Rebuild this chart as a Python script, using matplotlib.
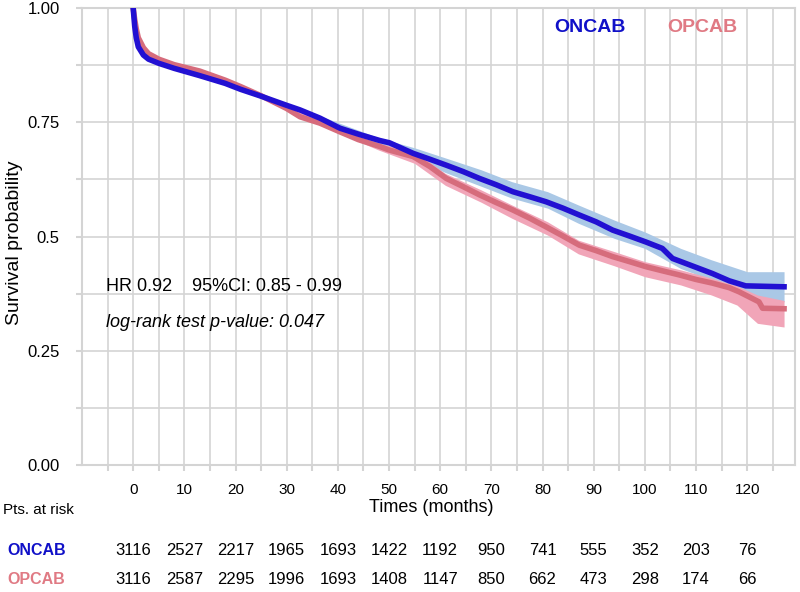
import numpy as np
import matplotlib.pyplot as plt
from matplotlib.transforms import blended_transform_factory

plt.rcParams['font.family'] = ['Liberation Sans', 'DejaVu Sans']

# survival curves (months, probability)
oncab_t = [0, 0.3, 0.6, 1, 2, 3, 5, 8, 13, 18, 21, 25, 30, 32.6, 36.5, 40.4, 44, 48.2,
           50.1, 54.7, 58, 61.2, 64.5, 67.7, 71, 74.2, 77.5, 80.7, 84, 87.2, 90.5,
           93.7, 97, 100.2, 103.4, 105.4, 109.9, 113.2, 116.5, 119.7, 127.2]
oncab_s = [1.0, 0.96, 0.935, 0.915, 0.897, 0.888, 0.879, 0.868, 0.852, 0.835, 0.822,
           0.807, 0.787, 0.777, 0.759, 0.737, 0.724, 0.710, 0.705, 0.682, 0.669, 0.656,
           0.642, 0.627, 0.613, 0.598, 0.587, 0.576, 0.562, 0.547, 0.532, 0.514, 0.501,
           0.488, 0.474, 0.452, 0.433, 0.419, 0.403, 0.392, 0.390]

opcab_t = [0, 0.3, 0.6, 1, 2, 3, 5, 8, 13, 18, 21, 25, 30, 32.6, 36.5, 40.4, 44, 48.2,
           50.1, 54.7, 58, 61.2, 64.5, 67.7, 71, 74.2, 77.5, 80.7, 84, 87.2, 90.5,
           93.7, 97, 100.2, 103.4, 106.7, 110, 113.2, 116.5, 118.4, 122.3, 123, 127.2]
opcab_s = [1.0, 0.975, 0.955, 0.935, 0.913, 0.9, 0.888, 0.876, 0.862, 0.842, 0.828,
           0.808, 0.780, 0.762, 0.748, 0.729, 0.712, 0.697, 0.689, 0.675, 0.653, 0.627,
           0.609, 0.591, 0.574, 0.558, 0.540, 0.521, 0.501, 0.481, 0.469, 0.456, 0.445,
           0.434, 0.425, 0.416, 0.406, 0.398, 0.388, 0.379, 0.357, 0.343, 0.342]

# 95% confidence bands (hidden under the lines before ~30 months)
oncab_ci_t = [30, 48, 55, 61, 68, 74, 81, 87, 94, 100, 107, 113, 120, 121, 127.2]
oncab_ci_lo = [0.783, 0.703, 0.670, 0.640, 0.610, 0.584, 0.562, 0.529, 0.496,
               0.474, 0.430, 0.405, 0.376, 0.357, 0.357]
oncab_ci_hi = [0.791, 0.716, 0.694, 0.672, 0.646, 0.620, 0.598, 0.569, 0.536,
               0.510, 0.474, 0.449, 0.423, 0.423, 0.423]

opcab_ci_t = [30, 48, 55, 61, 68, 74, 81, 87, 94, 100, 107, 113, 118, 122, 127.2]
opcab_ci_lo = [0.775, 0.689, 0.660, 0.612, 0.575, 0.540, 0.503, 0.462, 0.436,
               0.412, 0.394, 0.372, 0.350, 0.310, 0.302]
opcab_ci_hi = [0.784, 0.704, 0.686, 0.638, 0.602, 0.569, 0.532, 0.492, 0.467,
               0.445, 0.427, 0.409, 0.392, 0.372, 0.360]

# numbers at risk
risk_months = [0, 10, 20, 30, 40, 50, 60, 70, 80, 90, 100, 110, 120]
oncab_risk = [3116, 2527, 2217, 1965, 1693, 1422, 1192, 950, 741, 555, 352, 203, 76]
opcab_risk = [3116, 2587, 2295, 1996, 1693, 1408, 1147, 850, 662, 473, 298, 174, 66]

blue = '#2210d2'
blue_text = '#1010c8'
blue_band = '#aac8e6'
pink = '#d66c7c'
pink_text = '#e07a84'
pink_band = '#f1a5b8'
grid_c = '#d4d4d4'

fig = plt.figure(figsize=(8, 5.92), dpi=100)
ax = fig.add_axes([0.1025, 0.2145, 0.891, 0.772])

ax.fill_between(oncab_ci_t, oncab_ci_lo, oncab_ci_hi, color=blue_band, lw=0, zorder=2)
ax.fill_between(opcab_ci_t, opcab_ci_lo, opcab_ci_hi, color=pink_band, lw=0, zorder=2)
ax.plot(opcab_t, opcab_s, color=pink, lw=4, zorder=3, solid_joinstyle='round')
ax.plot(oncab_t, oncab_s, color=blue, lw=4, zorder=4, solid_joinstyle='round')

ax.set_xlim(-10, 129.3)
ax.set_ylim(0, 1)

xt = list(range(-5, 130, 5))
ax.set_xticks(xt)
ax.set_xticklabels([str(v) if (v % 10 == 0 and 0 <= v <= 120) else '' for v in xt], fontsize=11)
yt = [0, 0.125, 0.25, 0.375, 0.5, 0.625, 0.75, 0.875, 1.0]
ylab = {0: '0.00', 0.25: '0.25', 0.5: '0.5', 0.75: '0.75', 1.0: '1.00'}
ax.set_yticks(yt)
ax.set_yticklabels([ylab.get(v, '') for v in yt], fontsize=12)
ax.tick_params(axis='x', length=4, width=1.5, color=grid_c, pad=9)
ax.tick_params(axis='y', length=4, width=1.5, color=grid_c, pad=12)
ax.grid(True, color=grid_c, lw=1.2)
ax.set_axisbelow(True)
for sp in ax.spines.values():
    sp.set_color(grid_c)
    sp.set_linewidth(1.5)

# legend-like labels
ax.text(82.3, 0.958, 'ONCAB', color=blue_text, fontsize=14, fontweight='bold', va='center', ha='left')
ax.text(104.4, 0.958, 'OPCAB', color=pink_text, fontsize=14, fontweight='bold', va='center', ha='left')

# statistics
ax.text(-5.3, 0.39, 'HR 0.92', fontsize=13, va='center', ha='left')
ax.text(11.5, 0.39, '95%CI: 0.85 - 0.99', fontsize=13, va='center', ha='left')
ax.text(-5.3, 0.311, 'log-rank test p-value: 0.047', fontsize=13, style='italic', va='center', ha='left')

fig.text(431 / 800, 0.142, 'Times (months)', fontsize=13, ha='center', va='center')
fig.text(15 / 800, 0.59, 'Survival probability', fontsize=14, rotation=90, ha='center', va='center')
fig.text(3 / 800, 0.1385, 'Pts. at risk', fontsize=11, ha='left', va='center')

# risk table
tr = blended_transform_factory(ax.transData, fig.transFigure)
fig.text(7 / 800, 0.0693, 'ONCAB', color=blue_text, fontsize=11.5, fontweight='bold', ha='left', va='center')
fig.text(7 / 800, 0.0203, 'OPCAB', color=pink_text, fontsize=11.5, fontweight='bold', ha='left', va='center')
for m, n1, n2 in zip(risk_months, oncab_risk, opcab_risk):
    ax.text(m, 0.0693, str(n1), transform=tr, fontsize=12, ha='center', va='center')
    ax.text(m, 0.0203, str(n2), transform=tr, fontsize=12, ha='center', va='center')

fig.savefig('out.png', dpi=100)
